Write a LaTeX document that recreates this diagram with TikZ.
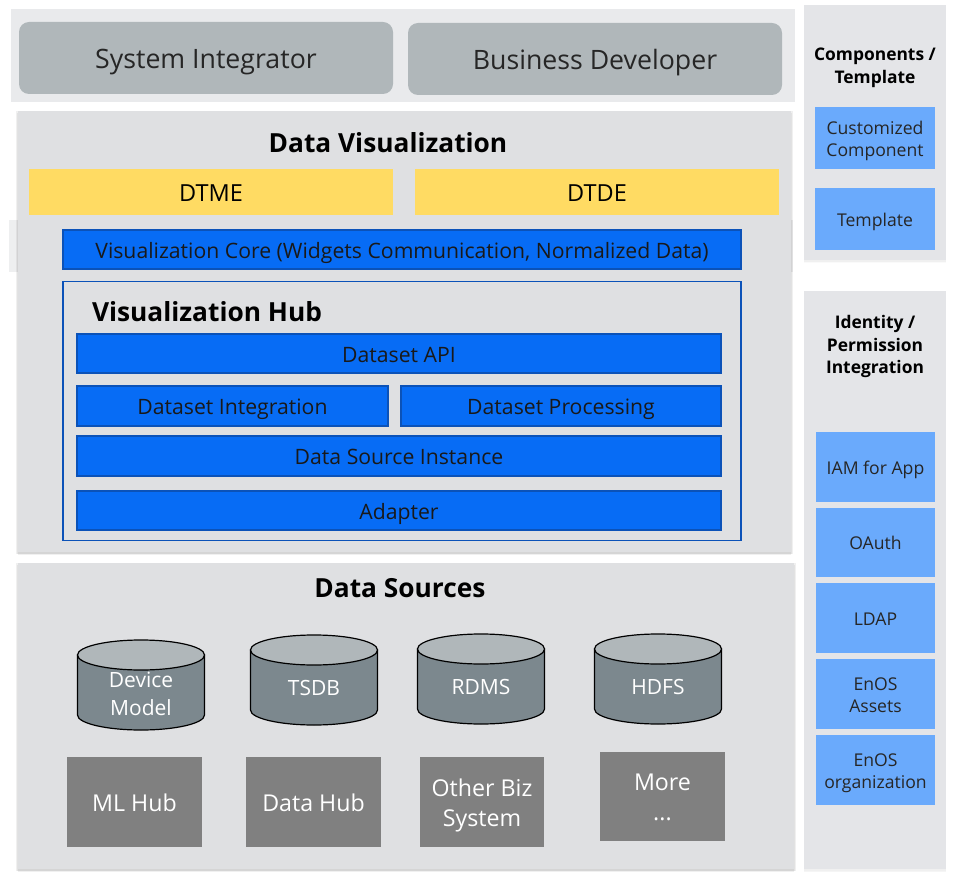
\documentclass[tikz,border=0pt]{standalone}
\usepackage{fontspec}
\setmainfont{Open Sans}
\usetikzlibrary{shapes.geometric, shadows, calc}
\definecolor{stripGrey}{RGB}{233, 234, 236}
\definecolor{backGrey}{RGB}{238, 239, 240}
\definecolor{panelGrey}{RGB}{223, 224, 226}
\definecolor{sideGrey}{RGB}{228, 229, 232}
\definecolor{roleGrey}{RGB}{176, 183, 186}
\definecolor{toolYellow}{RGB}{255, 219, 99}
\definecolor{coreBlue}{RGB}{7, 108, 245}
\definecolor{edgeBlue}{RGB}{11, 82, 184}
\definecolor{lightBlue}{RGB}{106, 170, 252}
\definecolor{dbGrey}{RGB}{124, 136, 142}
\definecolor{sysGrey}{RGB}{128, 128, 128}
% fixed height over the first line and depth under the last line of a node
\newcommand{\head}{\rule{0pt}{\dimexpr1.21em+2pt\relax}}
\newcommand{\tail}{\rule[-.5em]{0pt}{0pt}}
% drum with its centre x and its top y
\newcommand{\drum}[2]{
    \draw[db body] (#1 - 63.5, #2 + 15) -- ++(0, 60) arc[start angle=180, end angle=360, x radius=63.5pt, y radius=15pt] -- ++(0, -60) -- cycle;
    \draw[db top] (#1, #2 + 15) ellipse[x radius=63.5pt, y radius=15pt];
}

\begin{document}
\begin{tikzpicture} [
        x=1pt, y=-1pt,
        every node/.style={inner sep=0pt, outer sep=0pt, anchor=north west, align=center,
            execute at begin node={\head},
            execute at end node={\tail}},
        box size/.style 2 args={minimum width=#1pt, minimum height=#2pt},
        soft shadow/.style={
            drop shadow={shadow xshift=0pt, shadow yshift=-1pt, shadow scale=1.004, opacity=#1, fill=black},
            drop shadow={shadow xshift=0pt, shadow yshift=-2pt, shadow scale=1.002, opacity=#1, fill=black},
            drop shadow={shadow xshift=0pt, shadow yshift=-3pt, shadow scale=1, opacity=#1, fill=black}},
        strip/.style={fill=stripGrey},
        panel/.style={fill=panelGrey, soft shadow=.06},
        side panel/.style={fill=sideGrey, soft shadow=.02},
        role/.style={fill=roleGrey, rounded corners=10pt, font=\fontsize{26.7}{32}\selectfont, text=black!85, box size={374}{72}},
        tool/.style={fill=toolYellow, font=\fontsize{23.5}{28}\selectfont, box size={364}{46}},
        core/.style={draw=edgeBlue, line width=1.6pt, fill=coreBlue, font=\fontsize{21.2}{25}\selectfont, text=black!90},
        frame/.style={draw=edgeBlue, line width=1.6pt},
        title/.style={font=\bfseries\fontsize{26.3}{30}\selectfont, anchor=center},
        side title/.style={font=\bfseries\fontsize{17.4}{22.5}\selectfont, anchor=center},
        side box/.style={fill=lightBlue, font=\fontsize{17.6}{22}\selectfont, text=black!85},
        db body/.style={draw=black, line width=1.2pt, fill=dbGrey},
        db top/.style={draw=black, line width=1.2pt, fill=roleGrey},
        db label/.style={anchor=center, text=white, font=\fontsize{21}{28}\selectfont},
        sys/.style={fill=sysGrey, text=white, font=\fontsize{23.2}{30}\selectfont}
    ]

    \useasboundingbox (0, 0) rectangle (955, 882);

    % users on top
    \node[strip, box size={784}{93}] (users) at (11, 9) {};
    \node[role] (integrator) at (19, 22) {System Integrator};
    \node[role] (developer) at (408, 23) {Business Developer};

    % strip that stays behind the visualization panel
    \node[fill=backGrey, box size={784}{52}] (back strip) at (9, 220) {};

    % visualization panel
    \node[panel, box size={773}{441}] (vis) at (18, 111) {};
    \node[title] (vis title) at (388, 142) {Data Visualization};
    \node[tool] (dtme) at (29, 169) {DTME};
    \node[tool] (dtde) at (415, 169) {DTDE};
    \node[core, box size={678}{39}] (vis core) at (63, 230) {Visualization Core (Widgets Communication, Normalized Data)};

    \node[frame, box size={678}{259}] (hub) at (63, 281.5) {};
    \node[title, anchor=west] (hub title) at (92, 311) {Visualization Hub};
    \node[core, box size={644}{39}] (api) at (77, 334) {Dataset API};
    \node[core, box size={311}{40}] (integration) at (77, 386) {Dataset Integration};
    \node[core, box size={320}{40}] (processing) at (401, 386) {Dataset Processing};
    \node[core, box size={644}{40}] (instance) at (77, 436) {Data Source Instance};
    \node[core, box size={644}{39}] (adapter) at (77, 491) {Adapter};

    % data sources panel
    \node[panel, box size={776}{306}] (sources) at (18, 563) {};
    \node[title] (sources title) at (400, 587) {Data Sources};

    \drum{141}{640}
    \drum{314}{635}
    \drum{481}{634}
    \drum{658}{634}
    \node[db label] (device) at (141, 693) {\head Device\\Model};
    \node[db label] (tsdb) at (314, 687) {TSDB};
    \node[db label] (rdms) at (481, 686) {RDMS};
    \node[db label] (hdfs) at (658, 686) {HDFS};

    \node[sys, box size={135}{90}] (ml hub) at (67, 757) {ML Hub};
    \node[sys, box size={135}{90}] (data hub) at (246, 757) {Data Hub};
    \node[sys, box size={124}{90}] (biz) at (420, 757) {\head Other Biz\\System};
    \node[sys, box size={125}{89}] (more) at (600, 752) {\head More\\...};

    % right column
    \node[side panel, box size={142}{255}] (components) at (804, 5) {};
    \node[side title] (components title) at (875, 65) {\head Components /\\Template};
    \node[side box, box size={120}{62}] (customized) at (815, 107) {\head Customized\\Component};
    \node[side box, box size={120}{62}] (template) at (815, 188) {Template};

    \node[side panel, box size={142}{578}] (identity) at (804, 291) {};
    \node[side title] (identity title) at (875, 344) {\head Identity /\\Permission\\Integration};
    \node[side box, box size={119}{70}] (iam) at (816, 432) {IAM for App};
    \node[side box, box size={119}{69}] (oauth) at (816, 508) {OAuth};
    \node[side box, box size={119}{70}] (ldap) at (816, 583) {LDAP};
    \node[side box, box size={119}{70}] (assets) at (816, 659) {\head EnOS\\Assets};
    \node[side box, box size={119}{70}] (organization) at (816, 735) {\head EnOS\\organization};

\end{tikzpicture}
\end{document}
